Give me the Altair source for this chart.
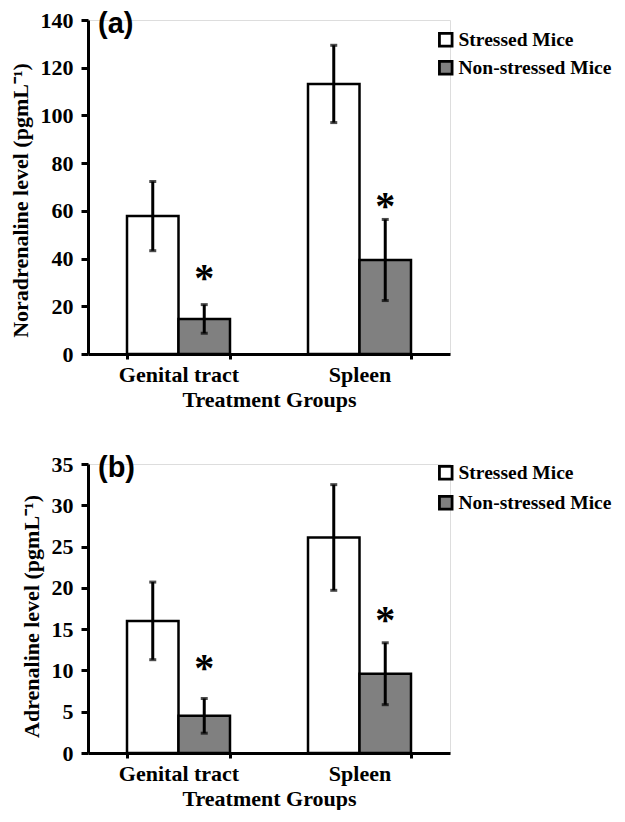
import altair as alt
import pandas as pd

groups = ["Genital tract", "Spleen"]
series = ["Stressed Mice", "Non-stressed Mice"]

# Panel (a): Noradrenaline
nor_stressed = [57.8, 113.2]
nor_stressed_err = [14.5, 16.2]
nor_non = [14.7, 39.4]
nor_non_err = [6.0, 17.0]
nor_star = [34.4, 64.5]

# Panel (b): Adrenaline
adr_stressed = [16.0, 26.1]
adr_stressed_err = [4.7, 6.4]
adr_non = [4.5, 9.6]
adr_non_err = [2.1, 3.75]
adr_star = [11.0, 16.8]

nor_ticks = [0, 20, 40, 60, 80, 100, 120, 140]
adr_ticks = [0, 5, 10, 15, 20, 25, 30, 35]

SERIF = "Liberation Serif"
SANS = "Liberation Sans"
FS = 22
W = 362


def make_df(st, st_err, non, non_err):
    rows = []
    for i, g in enumerate(groups):
        rows.append(dict(group=g, series=series[0], value=st[i],
                         lo=st[i] - st_err[i], hi=st[i] + st_err[i]))
        rows.append(dict(group=g, series=series[1], value=non[i],
                         lo=non[i] - non_err[i], hi=non[i] + non_err[i]))
    return pd.DataFrame(rows)


def panel(df, stars, ymax, yticks, ytitle, tag, height, legend_y, row_pad, tag_y, title_y):
    xenc = alt.X("group:N", sort=groups,
                 scale=alt.Scale(domain=groups, paddingInner=0.431, paddingOuter=0.2155),
                 axis=alt.Axis(title="Treatment Groups", labelAngle=0, tickBand="extent",
                               labelFont=SERIF, labelFontSize=FS, labelFontWeight="bold",
                               labelColor="black", titleFont=SERIF, titleFontSize=FS,
                               titleFontWeight="bold", titleColor="black",
                               domainColor="black", domainWidth=3, tickColor="black",
                               tickWidth=3, tickSize=5, labelPadding=5, titlePadding=4,
                               grid=False))
    xo = alt.XOffset("series:N", sort=series,
                     scale=alt.Scale(domain=series, paddingInner=0, paddingOuter=0))
    yenc = alt.Y("value:Q", scale=alt.Scale(domain=[0, ymax], nice=False, zero=True),
                 axis=alt.Axis(title=ytitle, values=yticks, grid=False,
                               labelFont=SERIF, labelFontSize=FS, labelFontWeight="bold",
                               labelColor="black", titleFont=SERIF, titleFontSize=FS,
                               titleFontWeight="bold", titleColor="black",
                               domainColor="black", domainWidth=3, tickColor="black",
                               tickWidth=3, tickSize=7, labelPadding=8, titlePadding=8,
                               titleY=title_y))
    base = alt.Chart(df)
    bars = base.mark_bar(stroke="black", strokeWidth=2.5).encode(
        x=xenc, xOffset=xo, y=yenc,
        color=alt.Color("series:N", sort=series,
                        scale=alt.Scale(domain=series, range=["white", "#808080"]),
                        legend=alt.Legend(title=None, orient="none", legendX=348,
                                          legendY=legend_y, symbolType="square",
                                          symbolSize=160, symbolStrokeColor="black",
                                          symbolStrokeWidth=2.8, labelFont=SERIF,
                                          labelFontSize=19.5, labelFontWeight="bold",
                                          labelColor="black", rowPadding=row_pad,
                                          labelOffset=3, labelLimit=400, padding=0)))
    rules = base.mark_rule(color="black", strokeWidth=3).encode(
        x=xenc, xOffset=xo, y="lo:Q", y2="hi:Q")
    cap_lo = base.mark_tick(color="black", thickness=3, size=7).encode(
        x=xenc, xOffset=xo, y="lo:Q")
    cap_hi = base.mark_tick(color="black", thickness=3, size=7).encode(
        x=xenc, xOffset=xo, y="hi:Q")
    sdf = pd.DataFrame({"group": groups, "series": [series[1]] * 2, "sy": stars})
    star = alt.Chart(sdf).mark_text(text="*", font=SERIF, fontSize=40, fontWeight="bold",
                                    color="black", baseline="alphabetic", dy=19).encode(
        x=xenc, xOffset=xo, y="sy:Q")
    tdf = pd.DataFrame({"t": [tag]})
    tagm = alt.Chart(tdf).mark_text(font=SANS, fontSize=29, fontWeight="bold",
                                    color="black", align="left", baseline="alphabetic").encode(
        text="t:N", x=alt.value(10), y=alt.value(tag_y))
    return alt.layer(bars, rules, cap_lo, cap_hi, star, tagm).properties(
        width=W, height=height)


pa = panel(make_df(nor_stressed, nor_stressed_err, nor_non, nor_non_err), nor_star,
           140, nor_ticks, "Noradrenaline level (pgmL\u207b\u00b9)", "(a)", 334, 10, 3, 13, 180)
pb = panel(make_df(adr_stressed, adr_stressed_err, adr_non, adr_non_err), adr_star,
           35, adr_ticks, "Adrenaline level  (pgmL\u207b\u00b9)", "(b)", 289, -1, 5, 13, 152)

chart = alt.vconcat(pa, pb, spacing=41).resolve_scale(
    color="independent", x="independent", y="independent", xOffset="independent"
).properties(padding={"left": 0, "top": 0, "right": 0, "bottom": 0}).configure_view(
    stroke=None).configure(background="white")

chart.save("out.html", embed_options={"renderer": "svg", "actions": False})
